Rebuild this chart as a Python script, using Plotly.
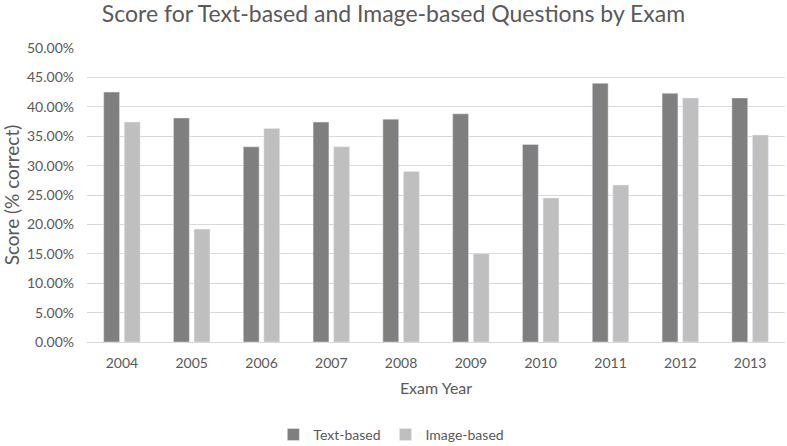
import plotly.graph_objects as go

years = ["2004", "2005", "2006", "2007", "2008", "2009", "2010", "2011", "2012", "2013"]
text_based = [0.425, 0.381, 0.332, 0.374, 0.379, 0.388, 0.336, 0.440, 0.423, 0.415]
image_based = [0.374, 0.192, 0.363, 0.332, 0.290, 0.150, 0.245, 0.267, 0.415, 0.352]
y_ticks = [i * 0.05 for i in range(11)]

font_family = "Lato, Open Sans, sans-serif"
grey_text = "#595959"

fig = go.Figure()
fig.add_trace(go.Bar(x=years, y=text_based, name="Text-based", marker_color="#7f7f7f"))
fig.add_trace(go.Bar(x=years, y=image_based, name="Image-based", marker_color="#bfbfbf"))

fig.update_layout(
    width=787,
    height=446,
    margin=dict(l=87, r=2, t=48, b=104, autoexpand=False),
    plot_bgcolor="white",
    paper_bgcolor="white",
    font=dict(family=font_family, color=grey_text, size=14),
    barmode="group",
    bargap=0.41,
    bargroupgap=0.23,
    title=dict(
        text="Score for Text-based and Image-based Questions by Exam",
        x=0.5,
        xanchor="center",
        y=1 - 6 / 446,
        yanchor="top",
        pad=dict(t=0),
        font=dict(size=23, color=grey_text, family=font_family),
    ),
    legend=dict(
        orientation="h",
        x=0.436,
        xanchor="center",
        y=-0.316,
        yanchor="middle",
        font=dict(size=14, color=grey_text),
        itemwidth=30,
    ),
)

fig.update_yaxes(
    range=[0, 0.5],
    tickvals=y_ticks,
    tickformat=".2%",
    tickfont=dict(size=14),
    gridcolor="#d9d9d9",
    zeroline=False,
    showline=False,
    ticks="",
    ticklabelstandoff=12,
    automargin=False,
    title=dict(text="Score (% correct)", font=dict(size=19, color=grey_text), standoff=8),
)
fig.update_xaxes(
    showline=True,
    linecolor="#d9d9d9",
    ticks="outside",
    ticklen=8,
    tickcolor="rgba(0,0,0,0)",
    tickfont=dict(size=14),
    automargin=False,
    title=dict(text="Exam Year", font=dict(size=16, color=grey_text), standoff=13),
)

# drop the default 8px body margin so the figure fills the window
fig.write_html(
    "out.html",
    config={"displayModeBar": False},
    post_script="document.body.style.margin = '0';",
)
